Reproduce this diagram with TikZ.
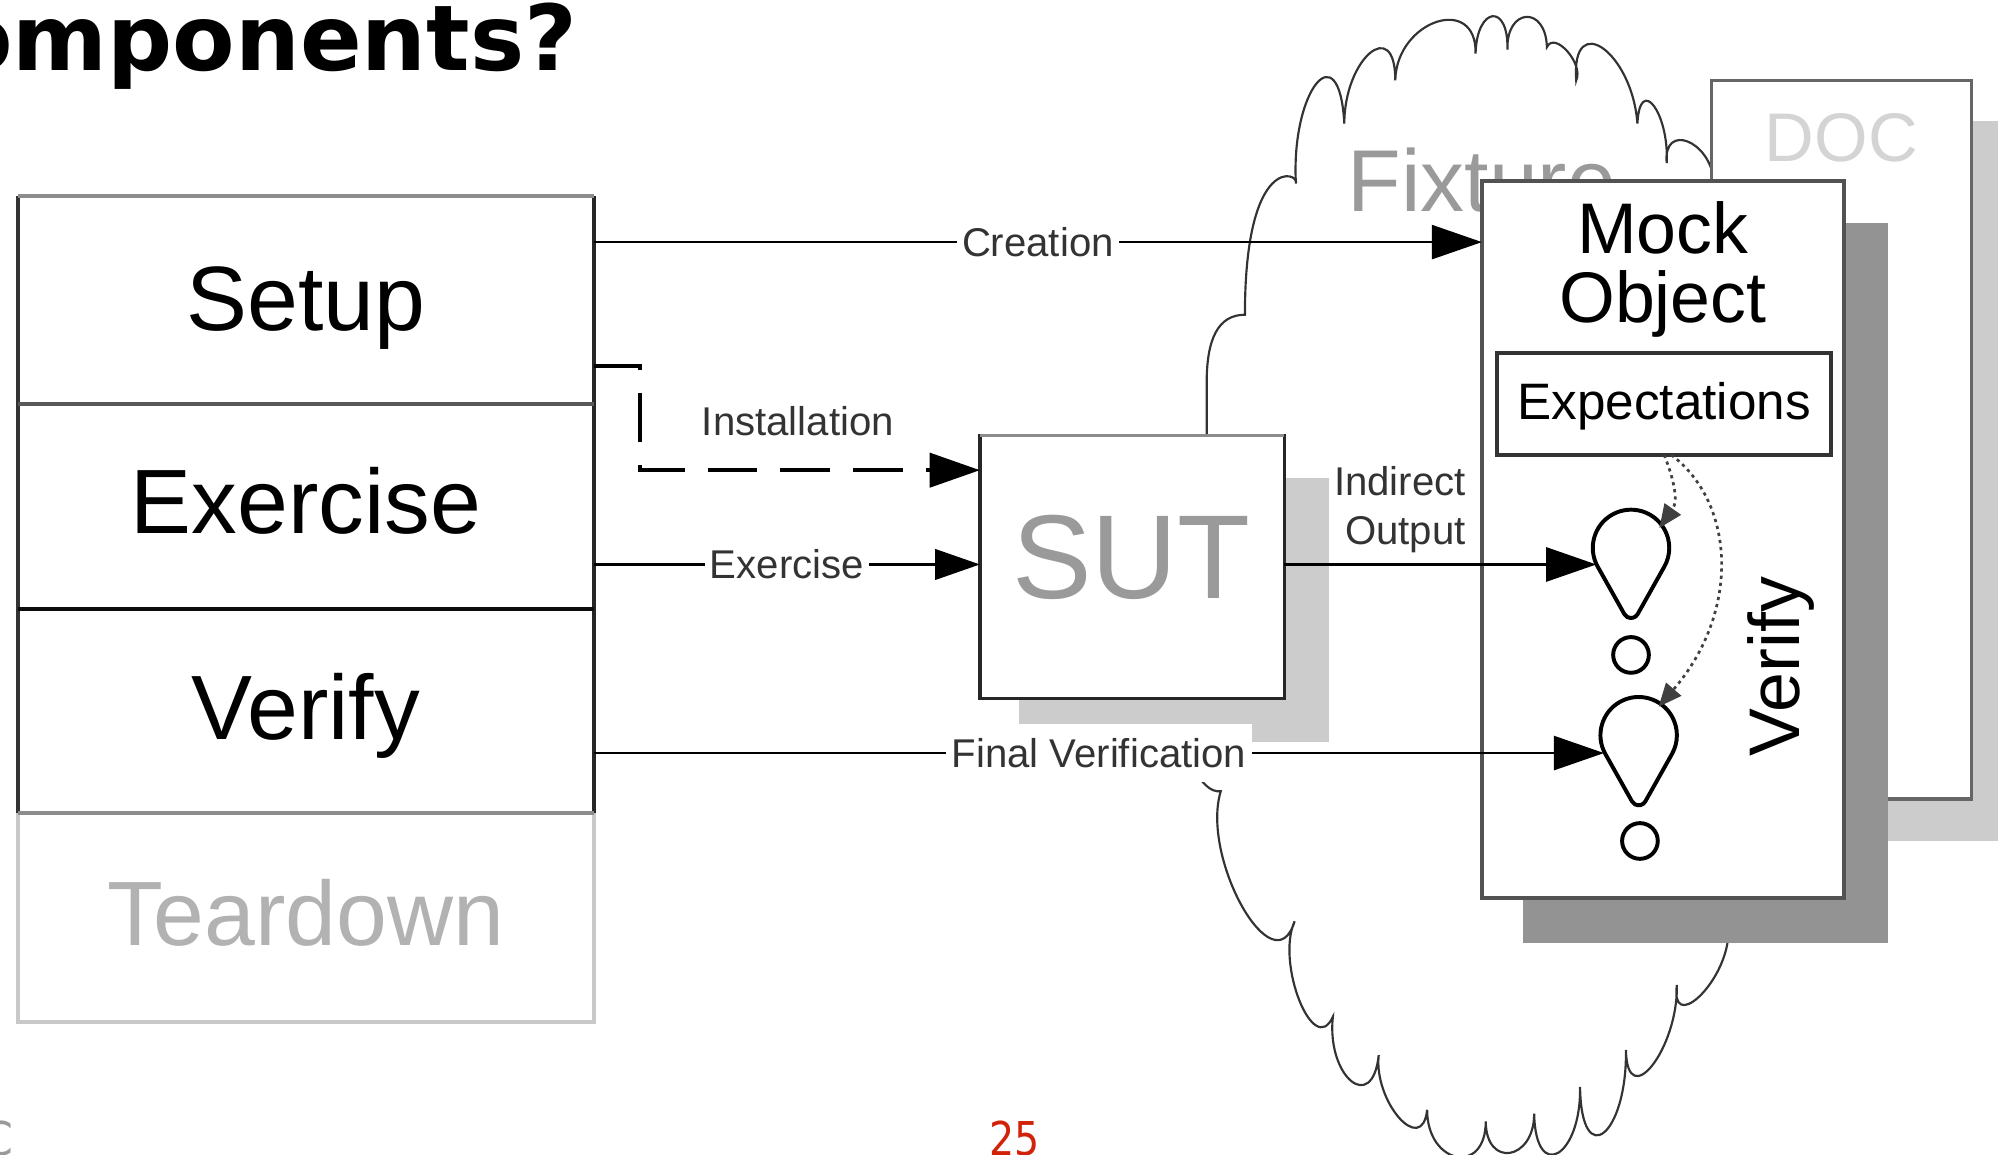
\documentclass[tikz,border=0pt]{standalone}
\usepackage{fontspec}
\setmainfont{Liberation Sans}
\newfontfamily\headfont{DejaVu Sans}
\newfontfamily\footfont{DejaVu Sans}[FakeStretch=0.85]
\usetikzlibrary{arrows.meta,calc,fit}

\definecolor{shadelight}{HTML}{CCCCCC}
\definecolor{shadedark}{HTML}{939393}
\definecolor{ghostgrey}{HTML}{9A9A9A}
\definecolor{palegrey}{HTML}{C8C8C8}
\definecolor{pagered}{HTML}{D2230A}

\tikzset{
  region/.style={inner sep=0pt, outer sep=0pt},
  stacktext/.style={font=\fontsize{25.5}{30}\selectfont, inner sep=0pt, anchor=base},
  conn/.style={line width=0.75pt, -{Triangle[length=14pt,width=9.5pt]}},
  smalltip/.style={-{Triangle[length=12.5pt,width=8.5pt]}},
  lbl/.style={fill=white, inner xsep=1.5pt, inner ysep=4pt, text=black!80,
              font=\fontsize{11.2}{13.5}\selectfont},
  lbltext/.style={inner sep=0pt, text=black!80, font=\fontsize{11.2}{13.5}\selectfont},
  instdash/.style={line width=1.1pt, dash pattern=on 13.9pt off 6.4pt},
  cloudline/.style={line width=0.6pt, draw=black!80},
  dropline/.style={line width=1.1pt, draw=black, fill=white},
  ringnode/.style={circle, draw=black, line width=1.1pt, fill=white, minimum size=0.35cm, inner sep=0pt},
  dropnode/.style={circle, minimum size=0.68cm, inner sep=0pt, outer sep=0pt},
  dotarrow/.style={line width=0.75pt, draw=black!75, dash pattern=on 0.9pt off 1.1pt,
                   -{Triangle[length=6.5pt,width=5.5pt]}},
}

\begin{document}
\begin{tikzpicture}[x=0.0125cm, y=-0.0125cm]
\useasboundingbox (0,0) rectangle (1568,906);
\clip (0,0) rectangle (1568,906);
\fill[white] (0,0) rectangle (1568,906);

% heading and footer
\node[anchor=base west, inner sep=0pt, font=\headfont\bfseries\fontsize{25.4}{30}\selectfont] (heading) at (-39.6,55) {omponents?};
\node[anchor=base, inner sep=0pt, text=pagered, font=\footfont\fontsize{13}{15}\selectfont] (pagenum) at (796,907) {25};
\node[anchor=base east, inner sep=0pt, text=ghostgrey, font=\footfont\fontsize{13}{15}\selectfont] (footc) at (11,907) {C};

% fixture cloud: upper outline
\draw[cloudline] (947,342) -- (947,300)
  .. controls (947,266) and (956,247) .. (977,247)
  .. controls (977,120) and (1020,135) .. (1017,144)
  .. controls (1013,71) and (1051,24) .. (1055,97)
  .. controls (1055,46) and (1095,12) .. (1095,63)
  .. controls (1096,16) and (1159,-5) .. (1158,42)
  .. controls (1159,5) and (1184,2) .. (1183,39)
  .. controls (1182,6) and (1213,4) .. (1214,37)
  .. controls (1220,24) and (1243,50) .. (1237,63)
  .. controls (1233,7) and (1281,41) .. (1285,97)
  .. controls (1287,58) and (1310,89) .. (1308,128)
  .. controls (1305,96) and (1342,110) .. (1345,142);
% fixture cloud: lower outline
\draw[cloudline] (1356,738)
  .. controls (1351,775) and (1311,810) .. (1316,773)
  .. controls (1317,823) and (1277,874) .. (1276,824)
  .. controls (1277,891) and (1241,920) .. (1240,853)
  .. controls (1241,908) and (1205,929) .. (1204,874)
  .. controls (1204,911) and (1166,917) .. (1166,880)
  .. controls (1166,923) and (1120,914) .. (1120,871)
  .. controls (1116,908) and (1078,865) .. (1082,828)
  .. controls (1077,875) and (1041,845) .. (1046,798)
  .. controls (1031,831) and (1001,756) .. (1016,723)
  .. controls (1000,776) and (942,674) .. (958,621)
  .. controls (950,622) and (942,614) .. (937,602);
\node[anchor=base west, inner sep=0pt, text=ghostgrey, font=\fontsize{24.5}{29}\selectfont] (fixture) at (1057,166) {Fixture};

% four-phase test stack
\node[region, fit={(14,154) (466,317)}] (setup) {};
\node[region, fit={(14,317) (466,478)}] (exercise) {};
\node[region, fit={(14,478) (466,638)}] (verify) {};
\node[region, fit={(14,638) (466,802)}] (teardown) {};
\draw[line width=1.1pt, draw=palegrey] (teardown.north west) -- (teardown.south west) -- (teardown.south east) -- (teardown.north east);
\draw[line width=1.1pt, draw=black!80] (setup.north west) -- (verify.south west);
\draw[line width=1.1pt, draw=black!85] (setup.north east) -- (verify.south east);
\draw[line width=1.1pt, draw=black!45] (setup.north west) -- (setup.north east);
\draw[line width=1.1pt, draw=black!65] (setup.south west) -- (setup.south east);
\draw[line width=1.1pt, draw=black!95] (exercise.south west) -- (exercise.south east);
\draw[line width=1.1pt, draw=black!45] (verify.south west) -- (verify.south east);
\node[stacktext] (setuptext) at (240,259) {Setup};
\node[stacktext] (exercisetext) at (240,419) {Exercise};
\node[stacktext] (verifytext) at (240,580) {Verify};
\node[stacktext, text=black!30] (teardowntext) at (240,742) {Teardown};

% system under test
\fill[shadelight] (800,375) rectangle (1043,582);
\node[region, fit={(769,342) (1008,548)}, fill=white, draw=black!85, line width=0.9pt] (sut) {};
\draw[line width=0.9pt, draw=black!45] (sut.north west) -- (sut.north east);
\node[anchor=base, inner sep=0pt, text=ghostgrey, font=\fontsize{33.3}{40}\selectfont] (suttext) at (888,470) {SUT};

% depended-on component
\fill[shadelight] (1375,95) rectangle (1600,660);
\node[region, fit={(1343,63) (1547,627)}, fill=white, draw=black!60, line width=0.9pt] (doc) {};
\node[anchor=base, inner sep=0pt, text=black!17, font=\fontsize{19.2}{23}\selectfont] (doctext) at (1445,127) {DOC};

% mock object
\fill[shadedark] (1195,175) rectangle (1482,740);
\node[region, fit={(1163,142) (1447,705)}, fill=white, draw=black!68, line width=1.1pt] (mock) {};
\node[anchor=base, inner sep=0pt, font=\fontsize{20}{24}\selectfont] (mockname) at (1305,199) {Mock};
\node[anchor=base, inner sep=0pt, font=\fontsize{20}{24}\selectfont] (objectname) at (1305,253) {Object};
\node[region, fit={(1175,277) (1437,357)}, draw=black!80, line width=1.25pt] (expect) {};
\node[anchor=base, inner sep=0pt, font=\fontsize{14.3}{17}\selectfont] (expecttext) at (1306,329) {Expectations};
\node[rotate=90, anchor=base, inner sep=0pt, font=\fontsize{20}{24}\selectfont] (verifytag) at (1412,523) {Verify};

% expectation checks
\node[dropnode] (drop1) at (1280,430) {};
\node[dropnode] (drop2) at (1286,577) {};
\draw[dropline] ($(drop1.center)+(150.7:30)$) arc[start angle=150.7, end angle=389.3, radius=30]
  -- ($(drop1.center)+(0,49)+(29.3:6)$) arc[start angle=29.3, end angle=150.7, radius=6] -- cycle;
\draw[dropline] ($(drop2.center)+(150.7:30)$) arc[start angle=150.7, end angle=389.3, radius=30]
  -- ($(drop2.center)+(0,49)+(29.3:6)$) arc[start angle=29.3, end angle=150.7, radius=6] -- cycle;
\node[ringnode] (ring1) at (1280,514) {};
\node[ringnode] (ring2) at (1287,660) {};

% connector rows
\coordinate (rowCreation) at (0,190);
\coordinate (rowInstall) at (0,287);
\coordinate (rowInstallIn) at (0,369);
\coordinate (rowExercise) at (0,443);
\coordinate (rowFinal) at (0,591);

\draw[conn] (setup.east |- rowCreation) -- node[lbl] {Creation} (mock.west |- rowCreation);
\draw[conn, instdash] (setup.east |- rowInstall) -- ++(36,0) -- ++(0,82)
  -- node[pos=0.465, above=8.9pt, lbltext] {Installation} (sut.west |- rowInstallIn);
\draw[conn, smalltip] (exercise.east |- rowExercise) -- node[lbl] {Exercise} (sut.west |- rowExercise);
\draw[conn] (sut.east |- rowExercise) -- node[pos=0.37, above=3pt, lbltext, align=right, fill=white, inner xsep=0.5pt] {Indirect\\Output} (drop1.west |- rowExercise);
\draw[conn] (verify.east |- rowFinal) -- node[lbl] {Final Verification} (drop2.west |- rowFinal);

% expectations feeding the checks
\draw[dotarrow] (expect.south) .. controls (1312,372) and (1318,392) .. (drop1.35);
\draw[dotarrow] ([xshift=2pt]expect.south) .. controls (1362,395) and (1366,480) .. (drop2.55);
\end{tikzpicture}
\end{document}
